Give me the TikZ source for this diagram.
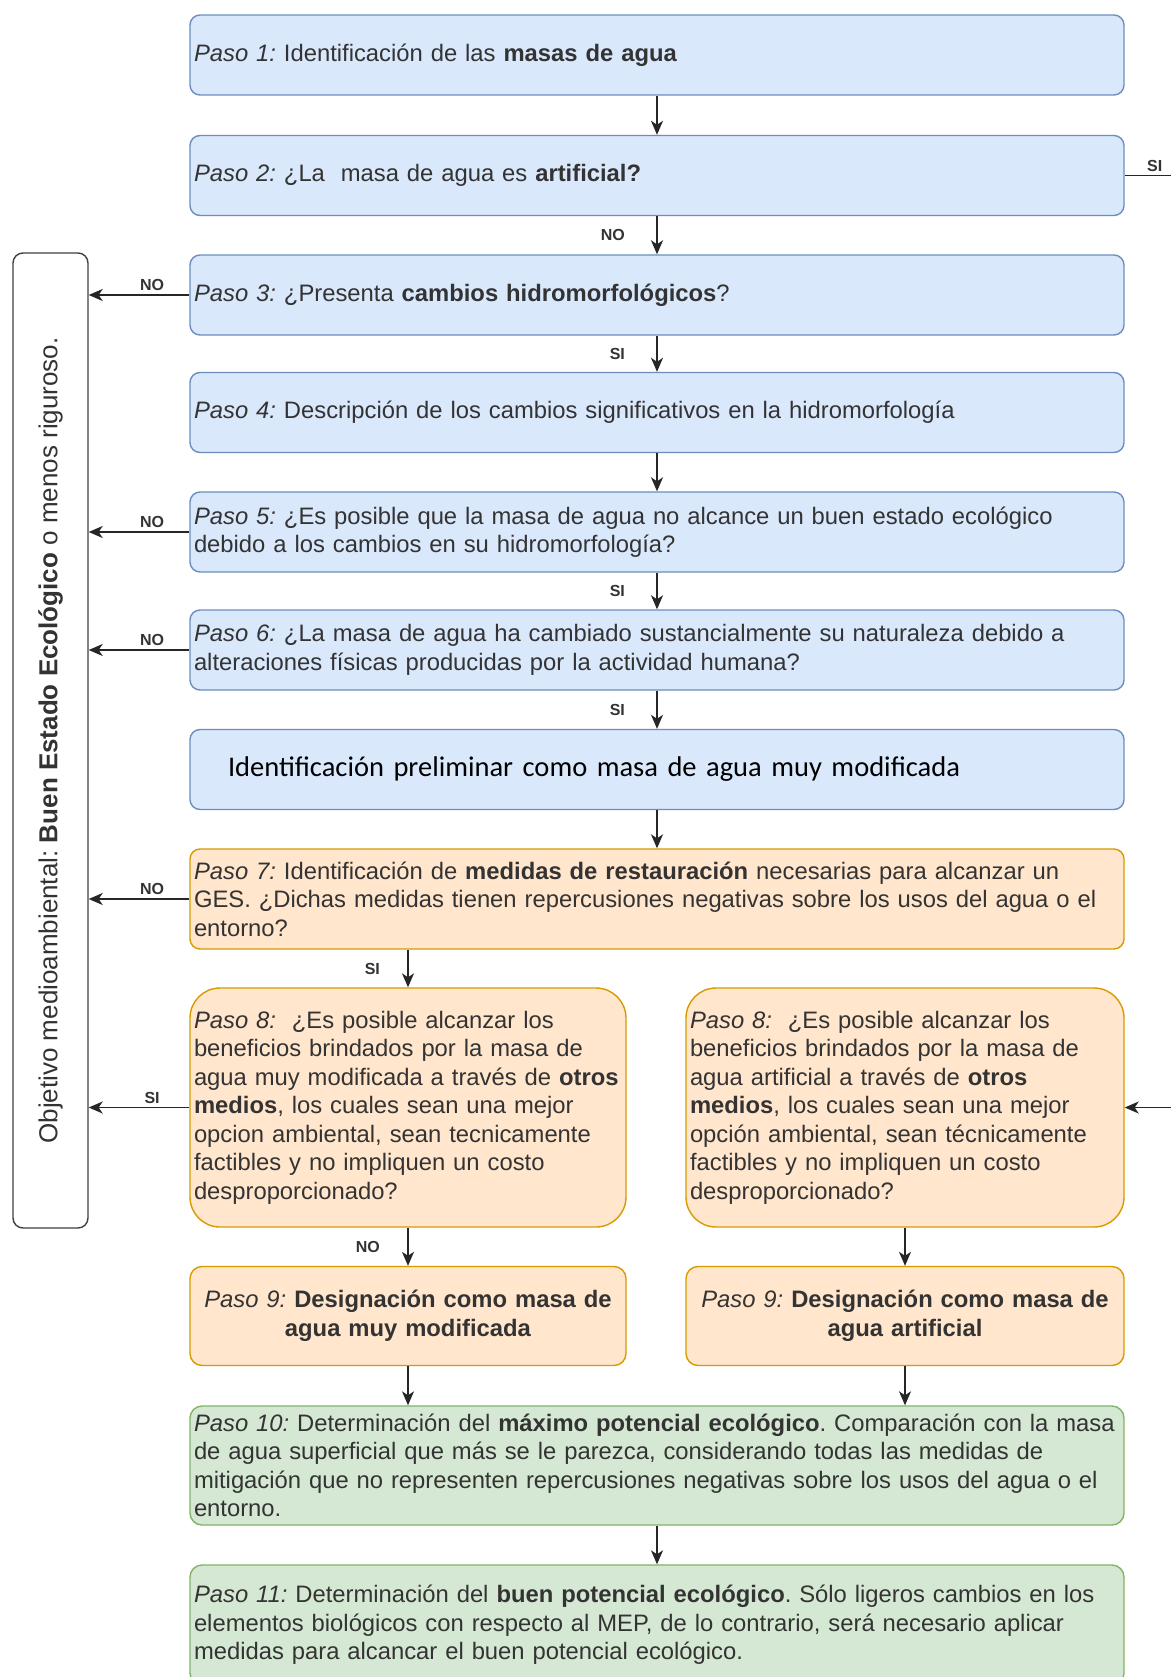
\documentclass[tikz,border=0pt]{standalone}
\usepackage{fontspec}
\setmainfont{Liberation Sans}
\newfontfamily\calibri{Carlito}
\usetikzlibrary{arrows.meta,positioning}
\definecolor{bluefill}{HTML}{DAE8FC}
\definecolor{blueline}{HTML}{6C8EBF}
\definecolor{orangefill}{HTML}{FFE6CC}
\definecolor{orangeline}{HTML}{D79B00}
\definecolor{greenfill}{HTML}{D5E8D4}
\definecolor{greenline}{HTML}{82B366}
\definecolor{txt}{HTML}{333333}
\frenchspacing

\begin{document}
\begin{tikzpicture}[
  x=1pt, y=-1pt,
  >={Stealth[length=14pt,width=12pt,inset=4pt]},
  paso/.style={rectangle, draw=blueline, fill=bluefill, rounded corners=10pt, line width=1.4pt, minimum height=80pt, text width=926pt, inner xsep=4pt, align=left, text=txt, font=\fontsize{23.8}{28.5}\selectfont},
  naranja/.style={paso, draw=orangeline, fill=orangefill},
  verde/.style={paso, draw=greenline, fill=greenfill},
  lbl/.style={font=\bfseries\fontsize{16}{19}\selectfont, text=txt},
  con/.style={->, line width=1.6pt, draw=black!85},
  node distance=119pt
]
\path[use as bounding box, fill=white] (0,0) rectangle (1170,1677);

\node[paso] (p1) at (657,55) {{\itshape Paso 1:} Identificación de las \textbf{masas de agua}};
\node[paso, below of=p1, node distance=120.5pt] (p2) {{\itshape Paso 2:} ¿La\ \ masa de agua es \textbf{artificial?}};
\node[paso, below of=p2, node distance=119.5pt] (p3) {{\itshape Paso 3:} ¿Presenta \textbf{cambios hidromorfológicos}?};
\node[paso, below of=p3, node distance=117.5pt] (p4) {{\itshape Paso 4:} Descripción de los cambios significativos en la hidromorfología};
\node[paso, below of=p4, node distance=119.5pt] (p5) {{\itshape Paso 5:} ¿Es posible que la masa de agua no alcance un buen estado ecológico\\debido a los cambios en su hidromorfología?};
\node[paso, below of=p5, node distance=118pt] (p6) {{\itshape Paso 6:} ¿La masa de agua ha cambiado sustancialmente su naturaleza debido a\\alteraciones físicas producidas por la actividad humana?};
\node[paso, below of=p6, node distance=119.5pt, text=black, font=\calibri\fontsize{28.5}{34}\selectfont] (pre) {\hspace*{34pt}Identificación preliminar como masa de agua muy modificada};
\node[naranja, below of=pre, node distance=129.5pt, minimum height=100pt] (p7) {{\itshape Paso 7:} Identificación de \textbf{medidas de restauración} necesarias para alcanzar un\\GES. ¿Dichas medidas tienen repercusiones negativas sobre los usos del agua o el\\entorno?};
\node[naranja, below of=p7, node distance=208.5pt, xshift=-249pt, text width=428pt, minimum height=239pt, rounded corners=30pt] (p8a) {{\itshape Paso 8:}\ \ ¿Es posible alcanzar los\\beneficios brindados por la masa de\\agua muy modificada a través de~\textbf{otros}\\\textbf{medios}, los cuales sean una mejor\\opcion ambiental, sean tecnicamente\\factibles y no impliquen un costo\\desproporcionado?};
\node[naranja, right of=p8a, node distance=497pt, text width=430pt, minimum height=239pt, rounded corners=30pt] (p8b) {{\itshape Paso 8:}\ \ ¿Es posible alcanzar los\\beneficios brindados por la masa de\\agua artificial a través de~\textbf{otros}\\\textbf{medios}, los cuales sean una mejor\\opción ambiental, sean técnicamente\\factibles y no impliquen un costo\\desproporcionado?};
\node[naranja, below of=p8a, node distance=208.5pt, text width=428pt, minimum height=99pt, align=center, rounded corners=12pt] (p9a) {{\itshape Paso 9:} \textbf{Designación como masa de}\\\textbf{agua muy modificada}};
\node[naranja, below of=p8b, node distance=208.5pt, text width=430pt, minimum height=99pt, align=center, rounded corners=12pt] (p9b) {{\itshape Paso 9:} \textbf{Designación como masa de}\\\textbf{agua artificial}};
\node[verde, below of=p7, node distance=566.5pt, minimum height=119pt, rounded corners=12pt] (p10) {{\itshape Paso 10:} Determinación del \textbf{máximo potencial ecológico}. Comparación con la~masa\\de agua superficial que más se le parezca, considerando todas las medidas de\\mitigación que no representen repercusiones negativas sobre los usos del agua o el\\entorno.};
\node[verde, below of=p10, node distance=159.5pt, minimum height=120pt, rounded corners=12pt] (p11) {{\itshape Paso 11:} Determinación del \textbf{buen potencial ecológico}. Sólo ligeros cambios en los\\elementos biológicos con respecto al MEP, de lo contrario, será necesario aplicar\\medidas para alcancar el buen potencial ecológico.};

\node[draw=black!75, line width=1.4pt, rounded corners=10pt, minimum width=75pt, minimum height=975pt, inner sep=0pt, text=txt, font=\fontsize{26}{30}\selectfont] (obj) at (50.5,740.5) {\rotatebox{90}{Objetivo medioambiental: \textbf{Buen Estado Ecológico} o menos riguroso.}};

\draw[con] (p1) -- (p2);
\draw[con] (p2) -- node[lbl, left=28pt] {NO} (p3);
\draw[con] (p3) -- node[lbl, left=28pt] {SI} (p4);
\draw[con] (p4) -- (p5);
\draw[con] (p5) -- node[lbl, left=28pt] {SI} (p6);
\draw[con] (p6) -- node[lbl, left=28pt] {SI} (pre);
\draw[con] (pre) -- (p7);
\draw[con] (p8a.north |- p7.south) -- node[lbl, left=24pt] {SI} (p8a);
\draw[con] (p8a) -- node[lbl, left=24pt] {NO} (p9a);
\draw[con] (p8b) -- (p9b);
\draw[con] (p9a) -- (p9a |- p10.north);
\draw[con] (p9b) -- (p9b |- p10.north);
\draw[con] (p10) -- (p11);
\draw[con] (p3.west) -- node[lbl, above, pos=0.37] {NO} (p3.west -| obj.east);
\draw[con] (p5.west) -- node[lbl, above, pos=0.37] {NO} (p5.west -| obj.east);
\draw[con] (p6.west) -- node[lbl, above, pos=0.37] {NO} (p6.west -| obj.east);
\draw[con] (p7.west) -- node[lbl, above, pos=0.37] {NO} (p7.west -| obj.east);
\draw[con] (p8a.west) -- node[lbl, above, pos=0.37] {SI} (p8a.west -| obj.east);
\draw[con] (p2.east) -- node[lbl, above] {SI} ++(60,0) |- (p8b.east);
\end{tikzpicture}
\end{document}
